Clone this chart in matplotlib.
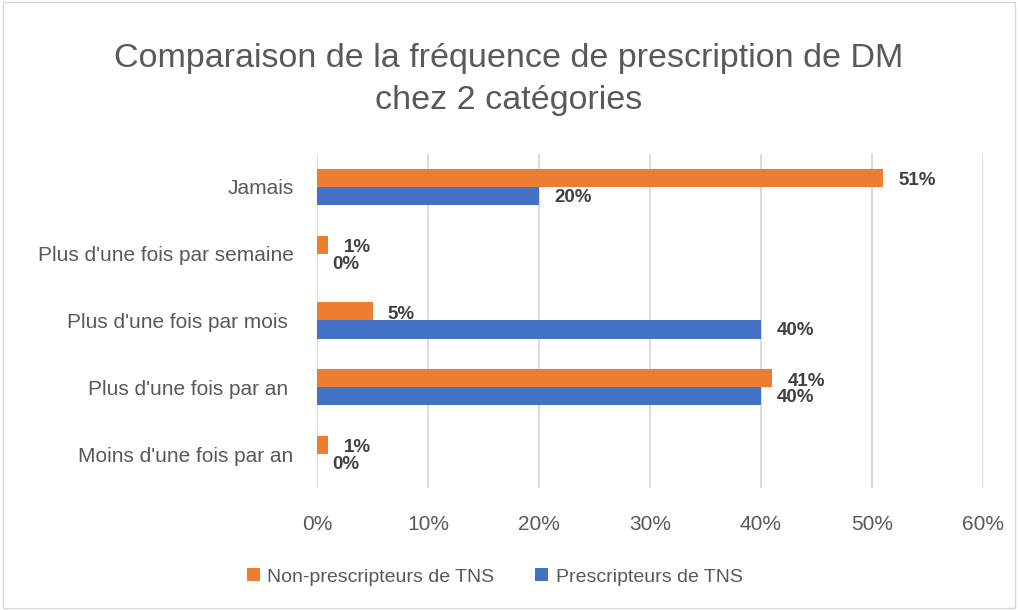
import numpy as np
import matplotlib.pyplot as plt
from matplotlib.patches import Rectangle

categories = ["Jamais", "Plus d'une fois par semaine", "Plus d'une fois par mois ",
              "Plus d'une fois par an ", "Moins d'une fois par an"]
non_prescr = [51, 1, 5, 41, 1]     # Non-prescripteurs de TNS (%)
prescr     = [20, 0, 40, 40, 0]    # Prescripteurs de TNS (%)
x_ticks    = [0, 10, 20, 30, 40, 50, 60]

ORANGE = "#ED7D31"
BLUE   = "#4472C4"
GREY   = "#595959"

plt.rcParams["font.family"] = ["Liberation Sans", "DejaVu Sans"]

fig = plt.figure(figsize=(10.18, 6.10), dpi=100)
ax = fig.add_axes([317 / 1018, 1 - 487.5 / 610, 666 / 1018, 334 / 610])

y = np.arange(len(categories))
h = 0.27
ax.barh(y - h / 2, non_prescr, height=h, color=ORANGE, label="Non-prescripteurs de TNS", zorder=3)
ax.barh(y + h / 2, prescr, height=h, color=BLUE, label="Prescripteurs de TNS", zorder=3)

for yi, v in zip(y, non_prescr):
    ax.annotate(f"{v}%", (v, yi - h / 2), xytext=(11, -2), textcoords="offset points",
                ha="left", va="center", fontsize=13.5, fontweight="bold", color="#404040", zorder=4)
for yi, v in zip(y, prescr):
    ax.annotate(f"{v}%", (v, yi + h / 2), xytext=(11, -1), textcoords="offset points",
                ha="left", va="center", fontsize=13.5, fontweight="bold", color="#404040", zorder=4)

ax.set_xlim(0, 60)
ax.set_ylim(len(categories) - 0.5, -0.5)
ax.set_xticks(x_ticks)
ax.set_xticklabels([f"{t}%" for t in x_ticks])
ax.set_yticks(y)
ax.set_yticklabels(categories)
ax.tick_params(axis="both", length=0, labelsize=15, colors=GREY)
ax.tick_params(axis="x", pad=20)
ax.tick_params(axis="y", pad=17)
ax.grid(axis="x", color="#D9D9D9", linewidth=1.3, zorder=0)
for s in ax.spines.values():
    s.set_visible(False)

fig.text(0.5, 1 - 58 / 610, "Comparaison de la fréquence de prescription de DM",
         ha="center", va="center", fontsize=24.5, color=GREY)
fig.text(0.5, 1 - 101 / 610, "chez 2 catégories",
         ha="center", va="center", fontsize=24.5, color=GREY)

leg = fig.legend(loc="center", bbox_to_anchor=(0.486, 1 - 577 / 610), ncol=2, frameon=False,
                 fontsize=14, handlelength=0.65, handleheight=0.65, handletextpad=0.4,
                 columnspacing=2.1, labelcolor=GREY)

fig.patches.append(Rectangle((0.003, 0.003), 0.994, 0.994, transform=fig.transFigure,
                             fill=False, edgecolor="#D9D9D9", linewidth=1))

fig.savefig("out.png", dpi=100)
